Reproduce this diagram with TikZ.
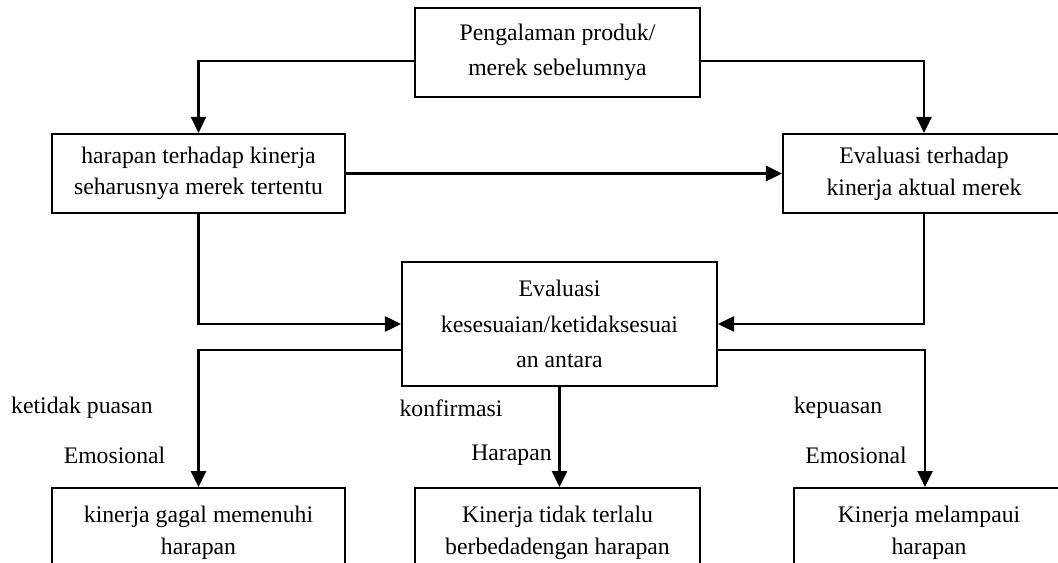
\documentclass[tikz,border=0pt]{standalone}
\usepackage{fontspec}
\setmainfont{Liberation Serif}
\usetikzlibrary{arrows.meta, positioning}

\begin{document}
\begin{tikzpicture}[
        x=0.02cm, y=-0.02cm,
        box/.style={rectangle, draw=black, line width=1.2pt, minimum height=1.58cm, align=center, font=\fontsize{13.5}{18}\selectfont},
        bigbox/.style={box, font=\fontsize{13.5}{20}\selectfont},
        result/.style={box, minimum height=1.8cm, anchor=north},
        lbl/.style={font=\fontsize{13.5}{16}\selectfont, inner sep=0pt},
        edge/.style={-{Triangle[length=0.32cm, width=0.3cm]}, line width=1.5pt}
    ]
        \useasboundingbox (0,0) rectangle (1058,563);
        \clip (0,0) rectangle (1058,563);

        % Experience and expectations
        \node[bigbox, minimum width=5.7cm, minimum height=1.78cm] (past) at (557.5,52.5) {Pengalaman produk/\\merek sebelumnya};
        \node[box, minimum width=5.86cm] (expect) at (198.5,173.5) {harapan terhadap kinerja\\seharusnya merek tertentu};
        \node[box, minimum width=5.64cm] (actual) at (924,173.5) {Evaluasi terhadap\\kinerja aktual merek};
        \draw[edge] ([yshift=-0.17cm]past.west) -| (expect.north);
        \draw[edge] ([yshift=-0.17cm]past.east) -| (actual.north);
        \draw[edge] (expect) -- (actual);

        % Comparison
        \node[bigbox, minimum width=6.3cm, minimum height=2.48cm] (compare) at (559.5,324) {Evaluasi\\kesesuaian/ketidaksesuai\\an antara};
        \draw[edge] (expect.south) |- (compare.west);
        \draw[edge] (actual.south) |- (compare.east);

        % Outcomes
        \node[result, minimum width=5.86cm] (fail) at (198.5,487) {kinerja gagal memenuhi\\harapan};
        \node[result, minimum width=5.7cm] (meet) at (557.5,487) {Kinerja tidak terlalu\\berbedadengan harapan};
        \node[result, minimum width=5.4cm, anchor=north west] (exceed) at (793,487) {Kinerja melampaui\\harapan};
        \draw[edge] ([yshift=-0.52cm]compare.west) -| (fail.north);
        \draw[edge] (compare.south) -- (compare.south |- meet.north);
        \draw[edge] ([yshift=-0.52cm]compare.east) -| ([xshift=-0.08cm]exceed.north);

        % Labels
        \node[lbl] (unsat) at (82,408) {ketidak puasan};
        \node[lbl] (emoA) at (114.5,455) {Emosional};
        \node[lbl] (confirm) at (451,408) {konfirmasi};
        \node[lbl] (hope) at (511.5,455) {Harapan};
        \node[lbl] (sat) at (838,408) {kepuasan};
        \node[lbl] (emoB) at (856,455) {Emosional};

    \end{tikzpicture}
\end{document}
